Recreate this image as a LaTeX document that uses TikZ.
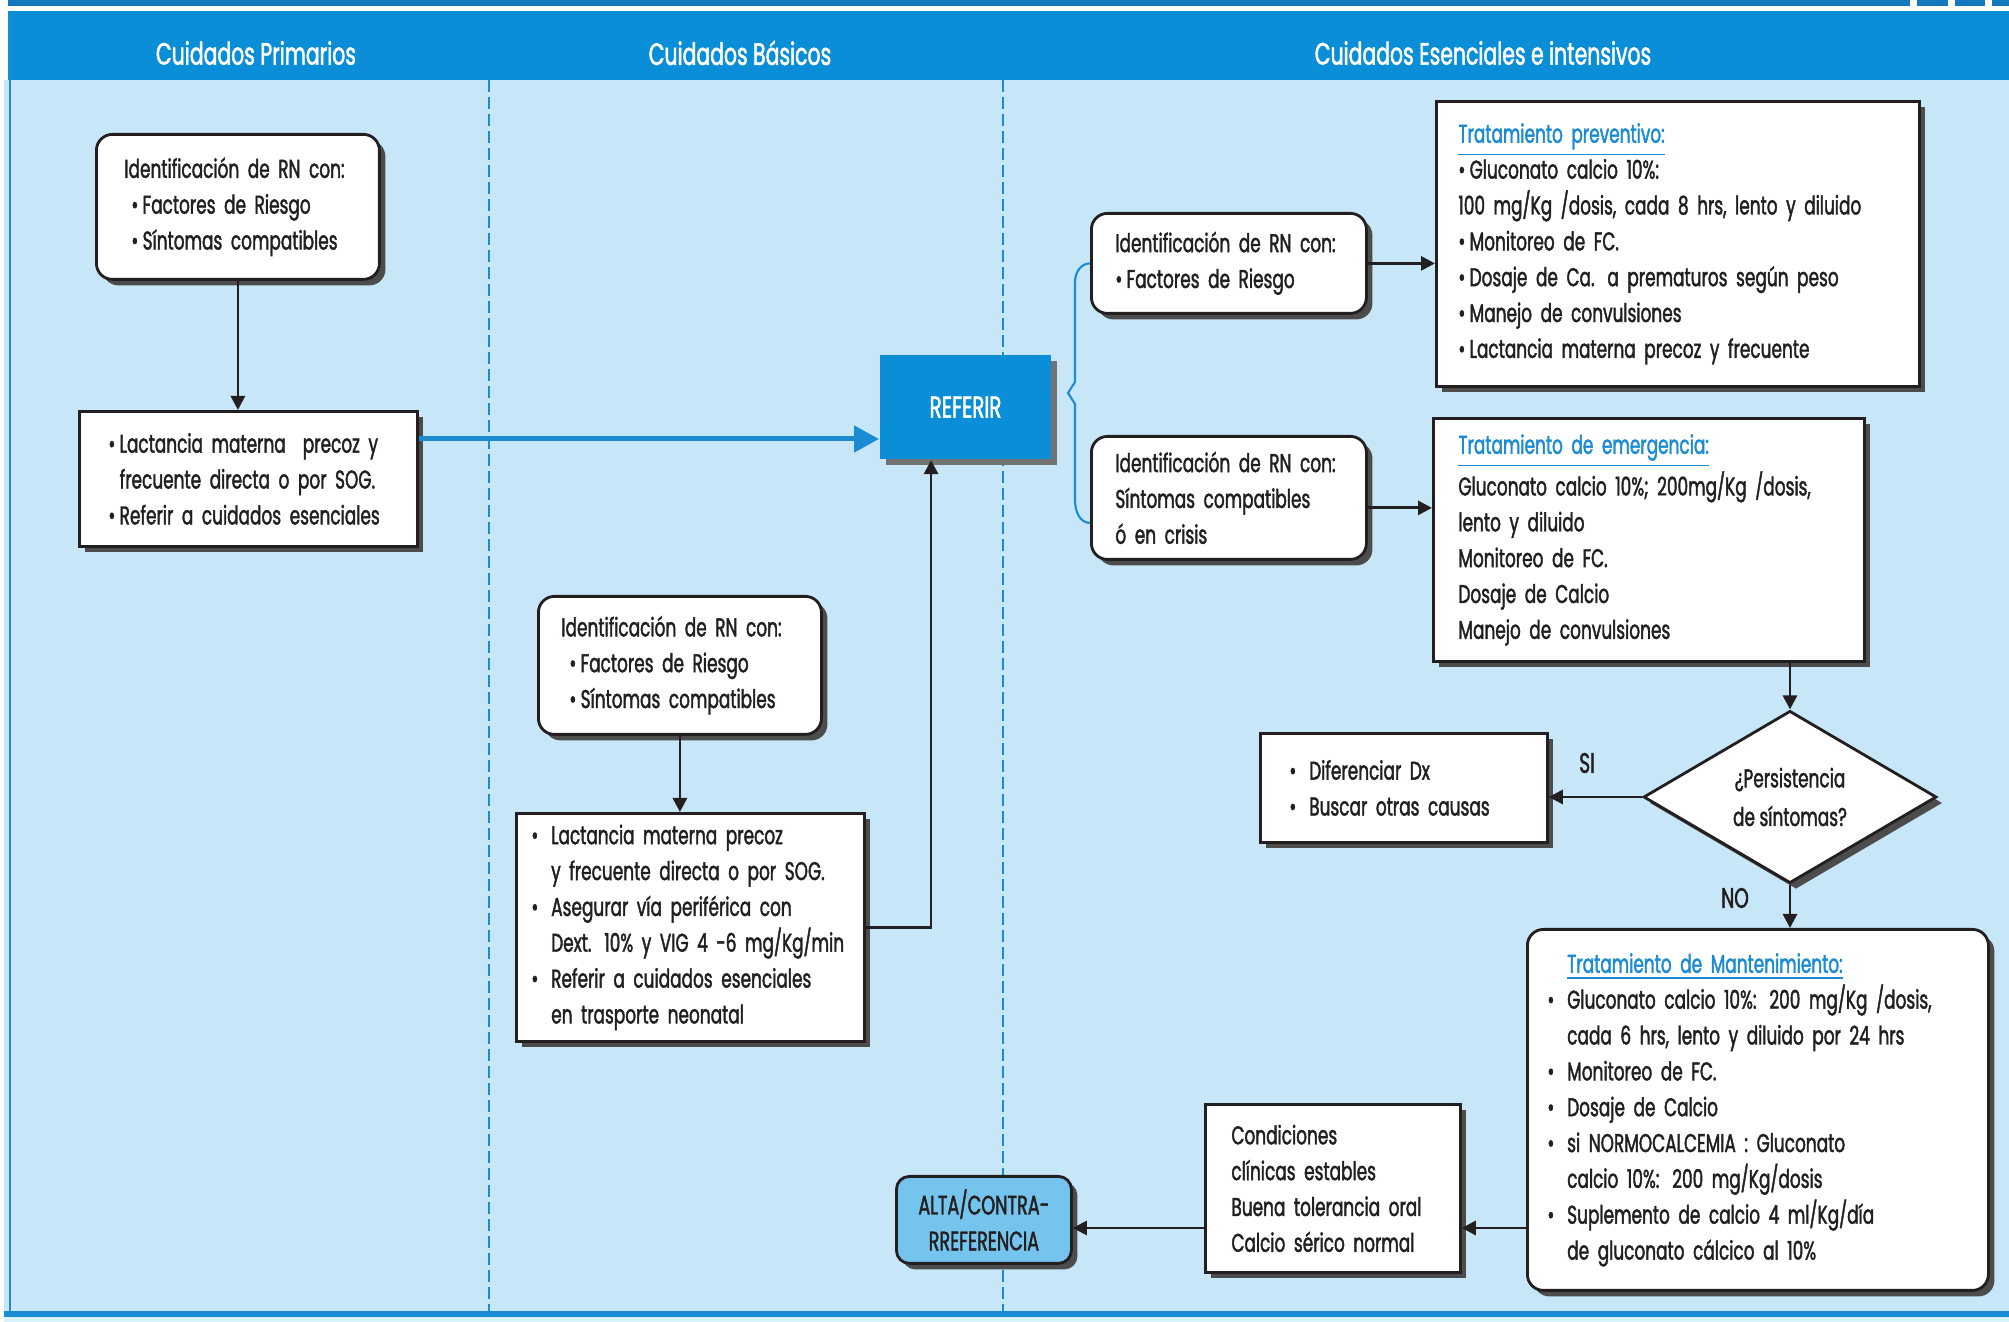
\documentclass[tikz,border=0pt]{standalone}
\usepackage{fontspec}
\setmainfont{Poppins}[FakeStretch=0.66,FakeBold=1.6]
\usetikzlibrary{arrows.meta,shapes.geometric,shadows}
\definecolor{hdrblue}{HTML}{0B8ED8}
\definecolor{bodyblue}{HTML}{C7E6F8}
\definecolor{lineblue}{HTML}{1B8BD3}
\definecolor{topblue}{HTML}{1478BE}
\definecolor{altablue}{HTML}{74C4EE}
\definecolor{ink}{HTML}{231F20}
\newcommand{\bl}{\textbullet\,}
\newcommand{\blind}{\phantom{\textbullet\,}}
\newcommand{\bll}{\textbullet\enspace}
\newcommand{\bllind}{\phantom{\textbullet\enspace}}
\newcommand{\ttl}[1]{{\color{lineblue}\underline{#1}}}

\begin{document}
\begin{tikzpicture}[x=0.1mm,y=-0.1mm,semithick,font=\fontsize{7.3}{10.2}\selectfont,text=ink,
  shd/.style={drop shadow={shadow xshift=0.6mm,shadow yshift=-0.6mm,fill=black!70,opacity=1}},
  box/.style={draw=ink,thick,fill=white,anchor=north west,align=left,inner ysep=0pt,shd},
  rbox/.style={box,rounded corners=1.6mm},
  hdr/.style={text=white,font=\fontsize{8.8}{10}\selectfont},
  tag/.style={font=\fontsize{8}{10}\selectfont},
  arr/.style={draw=ink,thick,-{Triangle[length=1.4mm,width=1.4mm]}},
  barr/.style={draw=lineblue,line width=0.5mm,-{Triangle[length=2.5mm,width=2.6mm]}},
  divider/.style={lineblue,line width=0.2mm,dash pattern=on 1.2mm off 0.5mm}]

\useasboundingbox (0,0) rectangle (2009,1322);

%frame
\fill[topblue] (8,0) rectangle (2009,6);
\foreach \xg in {1910,1948,1985} \fill[white] (\xg,0) rectangle (\xg+7,6);
\fill[hdrblue] (8,11) rectangle (2009,80);
\fill[bodyblue] (4,80) rectangle (2009,1311);
\draw[lineblue,line width=0.3mm] (10,11) -- (10,1314);
\fill[lineblue] (4,1311) rectangle (2009,1317);
\fill[cyan!15] (4,1317) rectangle (2009,1322);
\draw[divider] (489,80) -- (489,1311);
\draw[divider] (1003,80) -- (1003,1311);

\node[hdr] (hPri) at (256,53) {Cuidados Primarios};
\node[hdr] (hBas) at (740,53) {Cuidados Básicos};
\node[hdr] (hEse) at (1483,53) {Cuidados Esenciales e intensivos};

%primarios
\node[rbox,minimum width=28.3mm,minimum height=14.5mm,text width=22.7mm,inner xsep=2.8mm] (idP) at (95,133)
  {Identificación de RN con:\\ \hspace*{0.7mm}\bl Factores de Riesgo\\ \hspace*{0.7mm}\bl Síntomas compatibles};
\node[box,minimum width=33.8mm,minimum height=13.5mm,text width=28mm,inner xsep=2.9mm] (lacP) at (78,410)
  {\bl Lactancia materna\ \ precoz y\\ \blind frecuente directa o por SOG.\\ \bl Referir a cuidados esenciales};

%basicos
\node[rbox,minimum width=28.3mm,minimum height=13.8mm,text width=23.7mm,inner xsep=2.3mm] (idB) at (537,595)
  {Identificación de RN con:\\ \hspace*{0.8mm}\bl Factores de Riesgo\\ \hspace*{0.8mm}\bl Síntomas compatibles};
\node[box,minimum width=34.8mm,minimum height=22.8mm,text width=31.8mm,inner xsep=1.5mm] (lacB) at (515,812)
  {\bll Lactancia materna precoz\\ \bllind y frecuente directa o por SOG.\\ \bll Asegurar vía periférica con\\
   \bllind Dext. 10\% y VIG 4 -6 mg/Kg/min\\ \bll Referir a cuidados esenciales\\ \bllind en trasporte neonatal};

%REFERIR
\node[anchor=north west,fill=hdrblue,text=white,minimum width=17.1mm,minimum height=10.4mm,inner sep=0pt,
  font=\fontsize{8.6}{10}\selectfont,
  drop shadow={shadow xshift=0.6mm,shadow yshift=-0.6mm,fill=black!55,opacity=1}] (ref) at (879,354) {REFERIR};

%esenciales
\node[rbox,minimum width=27.5mm,minimum height=10mm,text width=22.7mm,inner xsep=2.4mm] (idF) at (1090,212)
  {Identificación de RN con:\\ \bl Factores de Riesgo};
\node[rbox,minimum width=27.5mm,minimum height=12.3mm,text width=22.7mm,inner xsep=2.4mm] (idS) at (1090,435)
  {Identificación de RN con:\\ Síntomas compatibles\\ ó en crisis};
\node[box,minimum width=48.3mm,minimum height=28.5mm,text width=43.9mm,inner xsep=2.2mm] (prev) at (1435,100)
  {\ttl{Tratamiento preventivo:}\\ \bl Gluconato calcio 10\%:\\ 100 mg/Kg /dosis, cada 8 hrs, lento y diluido\\
   \bl Monitoreo de FC.\\ \bl Dosaje de Ca. a prematuros según peso\\ \bl Manejo de convulsiones\\
   \bl Lactancia materna precoz y frecuente};
\node[box,minimum width=43.1mm,minimum height=24.3mm,text width=38.1mm,inner xsep=2.5mm] (emer) at (1432,417)
  {\ttl{Tratamiento de emergencia:}\\ Gluconato calcio 10\%; 200mg/Kg /dosis,\\ lento y diluido\\
   Monitoreo de FC.\\ Dosaje de Calcio\\ Manejo de convulsiones};
\node[draw=ink,thick,fill=white,shape=diamond,align=center,inner sep=0pt,minimum width=29.3mm,
  minimum height=14.3mm,font=\fontsize{7.3}{11}\selectfont,shd] (dia) at (1790,797) {¿Persistencia\\ de síntomas?};
\node[box,minimum width=28.7mm,minimum height=10.9mm,text width=22.9mm,inner xsep=2.9mm] (dif) at (1259,732)
  {\bll Diferenciar Dx\\ \bll Buscar otras causas};
\node[rbox,minimum width=46.1mm,minimum height=36.1mm,text width=42.1mm,inner xsep=2mm] (mant) at (1526,928)
  {\bllind\ttl{Tratamiento de Mantenimiento:}\\ \bll Gluconato calcio 10\%: 200 mg/Kg /dosis,\\
   \bllind cada 6 hrs, lento y diluido por 24 hrs\\ \bll Monitoreo de FC.\\ \bll Dosaje de Calcio\\
   \bll si NORMOCALCEMIA : Gluconato\\ \bllind calcio 10\%: 200 mg/Kg/dosis\\
   \bll Suplemento de calcio 4 ml/Kg/día\\ \bllind de gluconato cálcico al 10\%};
\node[box,minimum width=25.5mm,minimum height=16.8mm,text width=20.3mm,inner xsep=2.6mm] (cond) at (1204,1103)
  {Condiciones\\ clínicas estables\\ Buena tolerancia oral\\ Calcio sérico normal};
\node[draw=ink,thick,fill=altablue,rounded corners=1.3mm,anchor=north west,align=center,inner sep=0pt,
  minimum width=17.5mm,minimum height=8.7mm,font=\fontsize{7.6}{10.2}\selectfont,shd] (alta) at (895,1175)
  {ALTA/CONTRA-\\ RREFERENCIA};

\node[tag] (si) at (1587,763) {SI};
\node[tag] (no) at (1735,898) {NO};

\coordinate (refin) at (0,439);
\coordinate (outY) at (0,1228);

\draw[arr] (idP.south) -- (idP.south |- lacP.north);
\draw[barr] (lacP.east |- refin) -- (ref.west |- refin);
\draw[arr] (idB.south) -- (idB.south |- lacB.north);
\draw[arr] (lacB.east) -| ([xshift=-3.45mm]ref.south);
\draw[lineblue,semithick] (idF.west) to[out=180,in=90] (1075,282) -- (1075,382) -- (1068,393)
  -- (1075,404) -- (1075,500) to[out=-90,in=180] ([yshift=-2.5mm]idS.west);
\draw[arr] (idF.east) -- (idF.east -| prev.west);
\draw[arr] ([yshift=-1mm]idS.east) -- ([yshift=-1mm]idS.east -| emer.west);
\draw[arr] (dia.north |- emer.south) -- (dia.north);
\draw[arr] (dia.west) -- (dia.west -| dif.east);
\draw[arr] (dia.south) -- (dia.south |- mant.north);
\draw[arr] (mant.west |- outY) -- (cond.east |- outY);
\draw[arr] (cond.west |- outY) -- (alta.east |- outY);
\end{tikzpicture}
\end{document}
